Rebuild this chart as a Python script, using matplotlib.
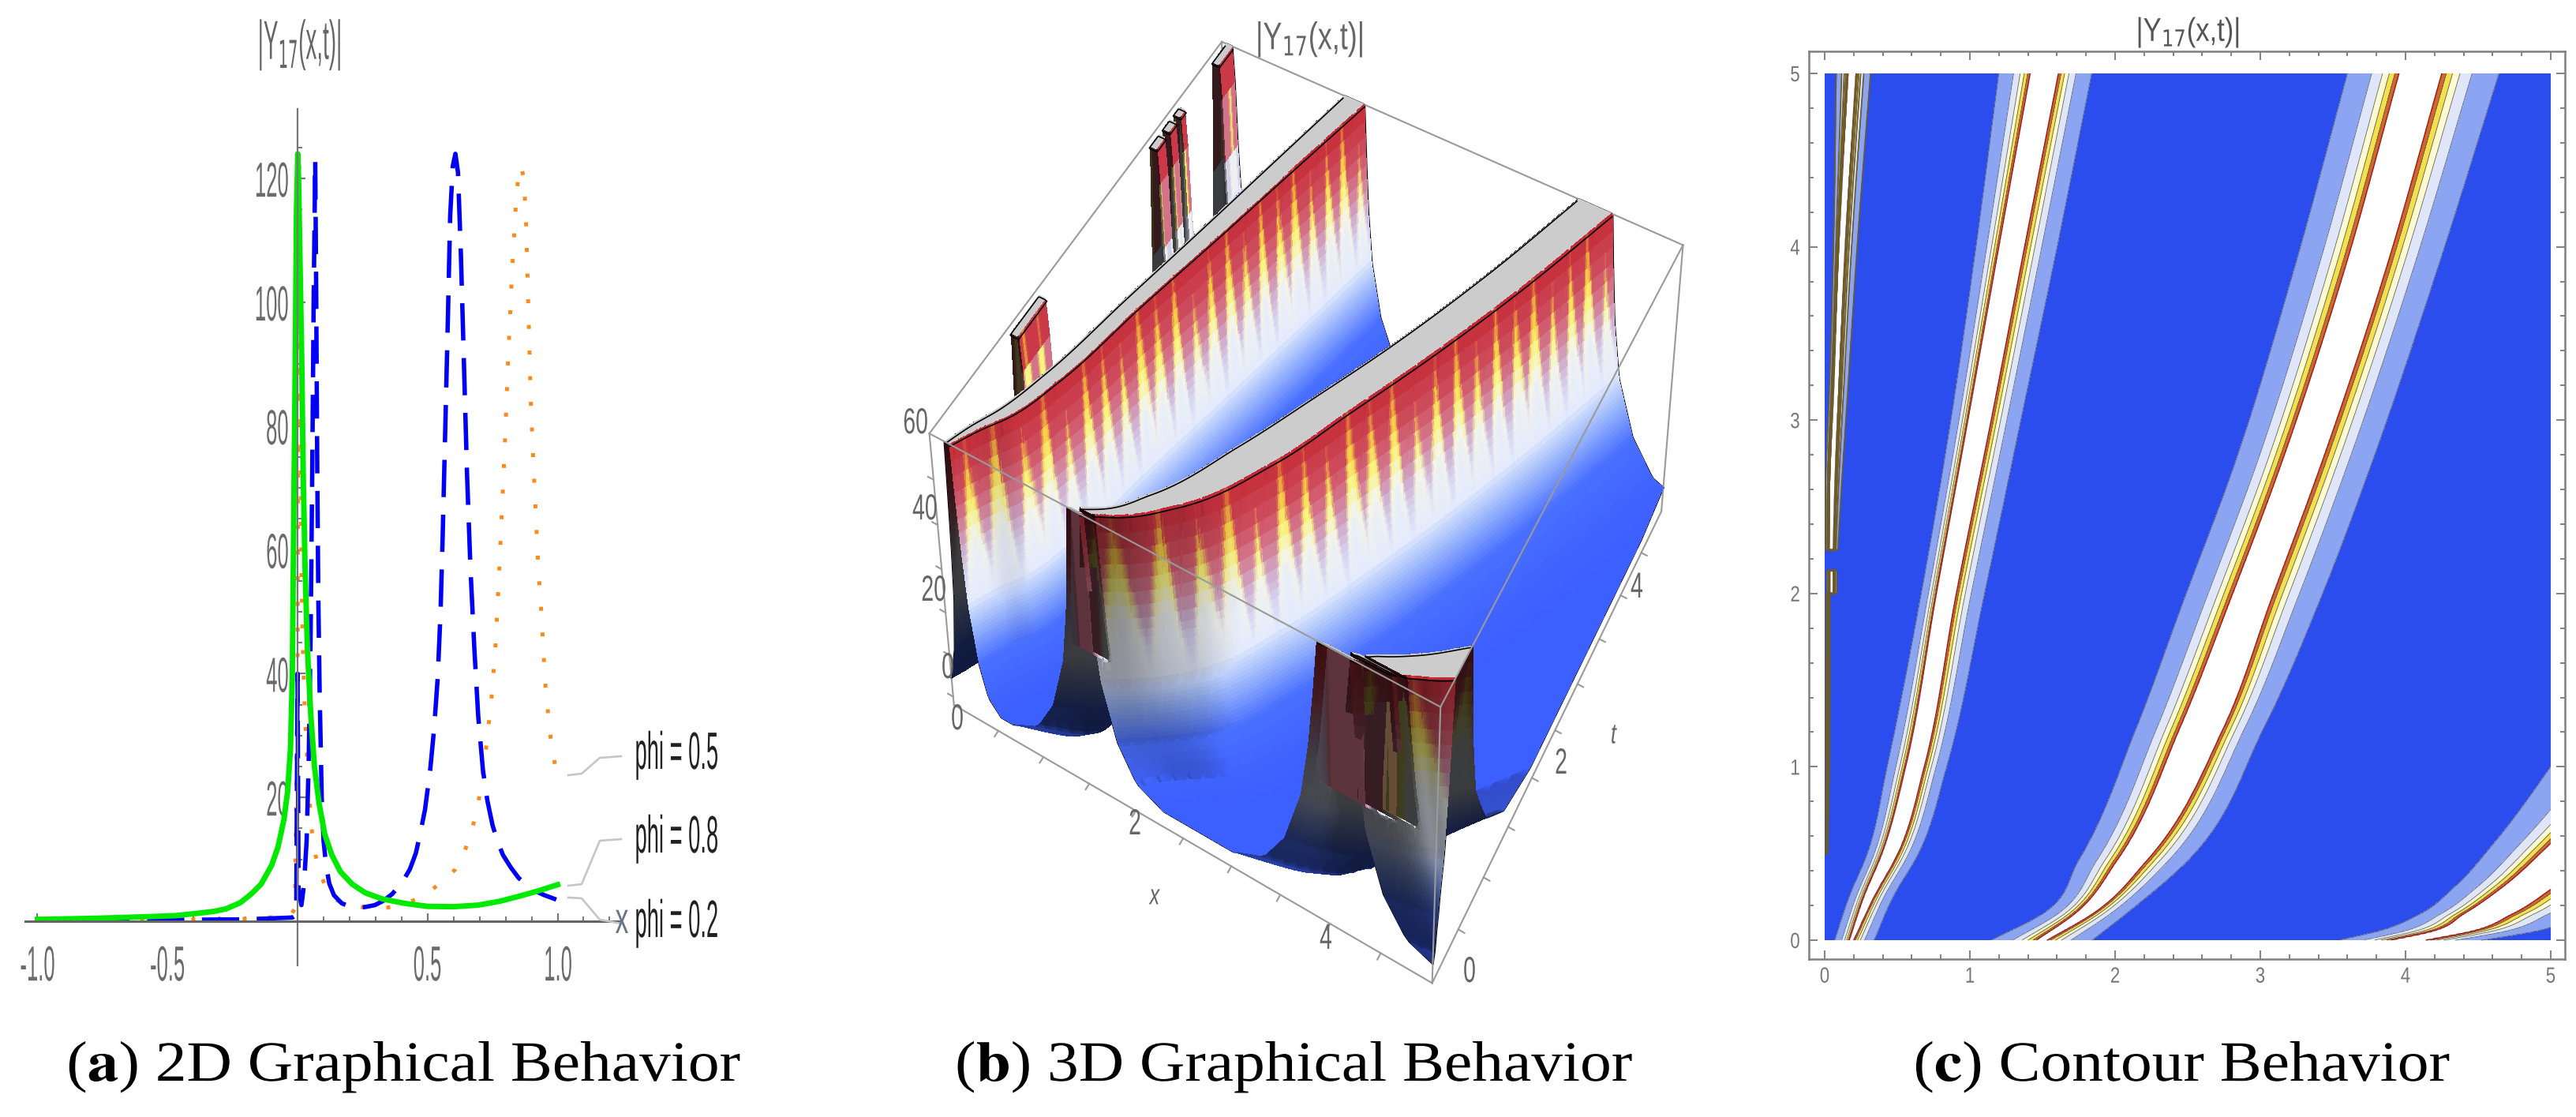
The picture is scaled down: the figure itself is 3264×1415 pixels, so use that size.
"""Three-panel |Y17(x,t)| figure: 2D curves, 3D surface, contour map."""
import matplotlib

matplotlib.use("Agg")
import matplotlib.pyplot as plt  # noqa: E402
import numpy as np  # noqa: E402
from matplotlib.colors import LinearSegmentedColormap  # noqa: E402
from matplotlib.lines import Line2D  # noqa: E402
from matplotlib.patheffects import AbstractPathEffect  # noqa: E402
from matplotlib.ticker import FixedLocator, NullFormatter  # noqa: E402
from matplotlib.transforms import Affine2D  # noqa: E402

W, H = 3264, 1415
SANS = "Liberation Sans"
SERIF = "Liberation Serif"

# --- panel (a): curves
BLUE_X = [-1.0, -0.6, -0.2, -0.02, -0.005, 0.0, 0.004, 0.015, 0.025, 0.035, 0.043, 0.05, 0.056, 0.062, 0.068,
          0.072, 0.076, 0.08, 0.085, 0.093, 0.1, 0.11, 0.122, 0.14, 0.17, 0.2, 0.229, 0.26, 0.297, 0.33, 0.364,
          0.4, 0.432, 0.455, 0.471, 0.49, 0.51, 0.525, 0.539, 0.55, 0.558, 0.568, 0.578, 0.587, 0.597, 0.607,
          0.617, 0.628, 0.64, 0.652, 0.665, 0.68, 0.695, 0.713, 0.73, 0.75, 0.77, 0.79, 0.82, 0.85, 0.88,
          0.907, 0.95, 0.995]
BLUE_Y = [0.2, 0.2, 0.3, 0.6, 1.0, 40.0, 5.0, 2.6, 6.0, 13.0, 26.0, 45.0, 70.0, 100.0, 123.0,
          100.0, 72.0, 52.0, 37.0, 20.0, 13.0, 9.0, 6.1, 4.2, 2.9, 2.4, 2.2, 2.3, 2.6, 3.3, 4.4,
          6.1, 8.4, 11.0, 14.0, 18.0, 24.4, 31.0, 39.3, 50.0, 62.0, 79.4, 97.0, 114.0, 122.0, 124.0,
          121.0, 108.0, 90.0, 72.0, 57.0, 44.0, 33.0, 24.4, 19.5, 15.5, 12.8, 10.7, 8.7, 7.0, 5.9,
          5.0, 4.2, 3.5]
ORANGE_X = [-1.0, -0.6, -0.2, -0.03, -0.01, 0.0, 0.003, 0.006, 0.009, 0.012, 0.015, 0.02, 0.027, 0.035, 0.045,
            0.054, 0.07, 0.093, 0.11, 0.132, 0.17, 0.21, 0.26, 0.306, 0.345, 0.384, 0.42, 0.461, 0.495, 0.529,
            0.57, 0.607, 0.64, 0.665, 0.685, 0.703, 0.72, 0.733, 0.748, 0.762, 0.776, 0.79, 0.8, 0.81, 0.825,
            0.84, 0.85, 0.86, 0.87, 0.878, 0.887, 0.897, 0.907, 0.917, 0.926, 0.936, 0.945, 0.955, 0.965,
            0.975, 0.985, 0.994]
ORANGE_Y = [0.2, 0.2, 0.4, 0.8, 2.0, 40.0, 90.0, 122.0, 100.0, 72.0, 57.0, 45.0, 35.0, 28.0, 20.0,
            15.0, 10.5, 7.2, 5.3, 3.8, 3.0, 2.6, 2.2, 2.0, 2.2, 2.6, 3.0, 3.6, 4.4, 5.5,
            6.8, 8.4, 11.0, 14.0, 17.0, 21.0, 26.0, 31.0, 37.0, 45.0, 57.0, 70.0, 80.0, 91.0, 105.0,
            116.0, 121.0, 122.0, 120.0, 114.0, 100.0, 84.0, 74.0, 65.0, 57.0, 51.0, 44.0, 37.0, 33.0,
            29.0, 26.5, 24.4]
GREEN_X = [-1.0, -0.8, -0.6, -0.47, -0.38, -0.32, -0.275, -0.22, -0.178, -0.14, -0.1, -0.075, -0.052, -0.038,
           -0.027, -0.02, -0.014, -0.009, -0.004, 0.001, 0.004, 0.009, 0.016, 0.022, 0.029, 0.038, 0.05, 0.065,
           0.083, 0.105, 0.132, 0.165, 0.21, 0.26, 0.326, 0.41, 0.5, 0.6, 0.694, 0.775, 0.849, 0.925, 1.0]
GREEN_Y = [0.3, 0.45, 0.7, 0.9, 1.3, 1.6, 2.0, 3.0, 4.4, 6.0, 9.0, 12.0, 16.5, 21.0,
           28.0, 40.0, 68.0, 90.0, 115.0, 124.0, 120.0, 108.0, 91.0, 72.0, 57.0, 44.0, 34.0, 25.0,
           19.0, 14.0, 10.7, 8.0, 6.0, 4.6, 3.6, 2.9, 2.4, 2.35, 2.6, 3.2, 4.0, 4.9, 5.9]
A_XTICKS = [-1.0, -0.5, 0.5, 1.0]
A_XLABELS = ["-1.0", "-0.5", "0.5", "1.0"]
A_YTICKS = [20, 40, 60, 80, 100, 120]
PHI_LABELS = ["phi = 0.5", "phi = 0.8", "phi = 0.2"]

# --- panels (b), (c): level crossings of each ridge
BAND_0_T = [2.25, 2.62, 3.2, 4.02, 5.0]
BAND_0_L = [0.007, 0.007, 0.034, 0.062, 0.08]
BAND_0_WL = [0.03, 0.034, 0.062, 0.098, 0.161]
BAND_0_WR = [0.06, 0.071, 0.098, 0.143, 0.216]
BAND_0_R = [0.09, 0.116, 0.161, 0.225, 0.315]
BLIP_T = [2.0, 2.13]
BLIP_L = [0.015, 0.015]
BLIP_WL = [0.035, 0.035]
BLIP_WR = [0.06, 0.06]
BLIP_R = [0.085, 0.085]
SLIVER_T = [0.5, 1.0, 2.0]
SLIVER_L = [0.008, 0.008, 0.01]
SLIVER_WL = [0.014, 0.014, 0.016]
SLIVER_WR = [0.018, 0.02, 0.022]
SLIVER_R = [0.02, 0.032, 0.036]
BAND_A_T = [0.0, 0.25, 0.5, 1.0, 2.0, 3.0, 4.0, 5.0]
BAND_A_L = [0.07, 0.17, 0.295, 0.431, 0.666, 0.87, 1.043, 1.2]
BAND_A_WL = [0.17, 0.27, 0.395, 0.558, 0.77, 0.987, 1.2, 1.416]
BAND_A_WR = [0.2, 0.34, 0.504, 0.685, 0.906, 1.146, 1.376, 1.609]
BAND_A_R = [0.34, 0.47, 0.645, 0.839, 1.1, 1.35, 1.6, 1.838]
BAND_B_T = [0.0, 0.15, 0.46, 1.219, 1.977, 2.737, 3.875, 5.0]
BAND_B_L = [1.15, 1.5, 1.75, 2.145, 2.481, 2.82, 3.235, 3.601]
BAND_B_WL = [1.46, 1.72, 2.014, 2.444, 2.8, 3.14, 3.583, 3.956]
BAND_B_WR = [1.53, 1.84, 2.218, 2.743, 3.08, 3.415, 3.866, 4.249]
BAND_B_R = [1.84, 2.07, 2.5, 3.02, 3.417, 3.76, 4.22, 4.643]
BAND_C_T = [0.0, 0.05, 0.15, 0.3, 0.55, 1.0, 1.5, 5.0]
BAND_C_L = [3.55, 3.81, 4.1, 4.33, 4.6, 5.0, 5.4, 8.0]
BAND_C_WL = [3.9, 4.18, 4.4, 4.66, 4.99, 5.5, 5.9, 8.4]
BAND_C_WR = [4.14, 4.445, 4.73, 5.01, 5.4, 5.9, 6.4, 8.8]
BAND_C_R = [4.52, 4.88, 5.2, 5.5, 5.8, 6.3, 6.8, 9.3]
# cross-section of a ridge: offset from the outer crossing (0) to the flat top (1) -> height
PROFILE_D = [-1.5, -0.6, 0.0, 0.47, 0.68, 0.81, 0.92, 1.0, 1.02]
PROFILE_Z = [1.5, 4.0, 10.0, 20.0, 30.0, 40.0, 50.0, 60.0, 70.0]
LEVELS = [0, 10, 20, 30, 40, 50, 60]
LEVEL_COLORS = ["#2b4dee", "#8ba5f3", "#dfe6fa", "#fdfbcf", "#f4e04a", "#cf6a28"]
# the clipped tops of the 3D panel are wider than the white bands of the contour panel
WALL_GAIN = 1.22
# isolated pieces behind the first 3D ridge
PEAK_START = [1.18, 3.55, 3.78, 3.98, 4.72]
PEAK_END = [1.64, 3.72, 3.92, 4.1, 5.0]
# undersampled gaps that split the ridges right at the front of the 3D panel
GAP_START = [0.02, 0.07]
GAP_END = [0.05, 0.085]
GAP_FROM_X = [1.0, 3.0]
# height -> colour on the 3D surface, on the yellow tongues and between them
HEIGHT_NODES = [0, 12, 20, 26, 32, 38, 44, 50, 56, 60]
YELLOW_COLORS = ["#3a5cff", "#4a70ff", "#9db8fb", "#e4ebfd", "#f5f5e8", "#f9f37e", "#f5c742", "#e07a38", "#cf3a3a", "#c42a36"]
PINK_COLORS = ["#3a5cff", "#4a70ff", "#9db8fb", "#e0e8fd", "#d6d4f0", "#d0aacb", "#d47a90", "#cf5060", "#c93a48", "#c42a36"]
TONGUES = [0.1, 0.9, 0.2, 1.0, 0.0, 0.8, 0.3, 1.0, 0.1, 0.7, 0.0, 1.0, 0.2, 0.9, 0.1, 0.8, 0.0, 1.0, 0.3, 0.9,
           0.1, 1.0, 0.0, 0.7, 0.2, 0.9, 0.0, 1.0, 0.2, 0.8, 0.1, 1.0, 0.0, 0.9, 0.3, 1.0, 0.1, 0.8, 0.0, 0.9,
           0.2, 1.0, 0.1, 0.7, 0.0]


class Squeeze(AbstractPathEffect):
    """Scale glyphs horizontally; the source picture had been stretched."""

    def __init__(self, sx, anchor=0.5):
        self.sx, self.anchor = sx, anchor

    def draw_path(self, renderer, gc, tpath, affine, rgbFace=None):
        if len(tpath.vertices) == 0:
            return
        box = tpath.get_extents()
        x0 = box.x0 + self.anchor * box.width
        scaled = Affine2D().translate(-x0, 0).scale(self.sx, 1).translate(x0, 0) + affine
        renderer.draw_path(gc, tpath, scaled, rgbFace)


def axes_px(fig, left, top, right, bottom, **kw):
    return fig.add_axes([left / W, 1 - bottom / H, (right - left) / W, (bottom - top) / H], **kw)


def px_text(fig, x, y, s, size, sx=1.0, anchor=0.5, color="#666666", family=SANS, **kw):
    ha = {0: "left", 0.5: "center", 1: "right"}[anchor]
    return fig.text(x / W, 1 - y / H, s, fontsize=size, color=color, family=family, ha=ha, va="center",
                    path_effects=[Squeeze(sx, anchor)], **kw)


def curve(T, knots, vals):
    """Smooth curve through the read crossings; NaN outside the knots."""
    k = np.asarray(knots, dtype=float)
    v = np.asarray(vals, dtype=float)
    h = np.diff(k)
    s = np.diff(v) / h
    m = np.empty_like(v)
    m[0], m[-1] = s[0], s[-1]
    m[1:-1] = (s[:-1] * h[1:] + s[1:] * h[:-1]) / (h[:-1] + h[1:])
    i = np.clip(np.searchsorted(k, T) - 1, 0, len(h) - 1)
    u = (T - k[i]) / h[i]
    out = ((2 * u ** 3 - 3 * u ** 2 + 1) * v[i] + (u ** 3 - 2 * u ** 2 + u) * h[i] * m[i]
           + (-2 * u ** 3 + 3 * u ** 2) * v[i + 1] + (u ** 3 - u ** 2) * h[i] * m[i + 1])
    out[(T < k[0]) | (T > k[-1])] = np.nan
    return out


def band_height(X, T, knots, left, in_left, in_right, right):
    L, WL = curve(T, knots, left), curve(T, knots, in_left)
    WR, R = curve(T, knots, in_right), curve(T, knots, right)
    d = np.minimum((X - L) / (WL - L), (R - X) / (R - WR))
    return np.where(np.isnan(d), PROFILE_Z[0], np.interp(np.nan_to_num(d, nan=-9.0), PROFILE_D, PROFILE_Z))


def common_bands(X, T):
    z = band_height(X, T, BAND_A_T, BAND_A_L, BAND_A_WL, BAND_A_WR, BAND_A_R)
    z = np.maximum(z, band_height(X, T, BAND_B_T, BAND_B_L, BAND_B_WL, BAND_B_WR, BAND_B_R))
    return np.maximum(z, band_height(X, T, BAND_C_T, BAND_C_L, BAND_C_WL, BAND_C_WR, BAND_C_R))


def ridge_mesh():
    """Mesh whose columns follow the ridges, so steep walls do not staircase."""
    t = np.concatenate([np.linspace(0, 0.3, 40, endpoint=False), np.linspace(0.3, 5, 300)])
    side = np.concatenate([np.linspace(-1.5, -0.05, 10), np.linspace(0, 1, 34)])
    cols = [np.full_like(t, v) for v in np.linspace(0, 5, 45)]
    cols += [np.full_like(t, v) for v in np.linspace(0.01, 0.3, 14)]
    for knots, left, in_left, in_right, right in [
        (BAND_A_T, BAND_A_L, BAND_A_WL, BAND_A_WR, BAND_A_R),
        (BAND_B_T, BAND_B_L, BAND_B_WL, BAND_B_WR, BAND_B_R),
        (BAND_C_T, BAND_C_L, BAND_C_WL, BAND_C_WR, BAND_C_R),
    ]:
        L, WL = curve(t, knots, left), curve(t, knots, in_left)
        WR, R = curve(t, knots, in_right), curve(t, knots, right)
        cols += [L + d * (WL - L) for d in side]
        cols += [WL + f * (WR - WL) for f in np.linspace(0.1, 0.9, 5)]
        cols += [R - d * (R - WR) for d in side]
    X = np.sort(np.clip(np.column_stack(cols), 0, 5), axis=1)
    T = np.repeat(t[:, None], X.shape[1], axis=1)
    return t, X, T


def draw_curves(fig):
    ax = axes_px(fig, 32, 138, 785, 1223)
    ax.patch.set_alpha(0)
    ax.set_xlim((32 - 377) / 329.5, (785 - 377) / 329.5)
    ax.set_ylim((1167 - 1223) / 7.84, (1167 - 138) / 7.84)
    ax.plot(ORANGE_X, ORANGE_Y, color="#ff8a1c", lw=3.6, dashes=(1.0, 5.5))
    ax.plot(BLUE_X, BLUE_Y, color="#0000f5", lw=4.0, dashes=(8.5, 4))
    ax.plot(GREEN_X, GREEN_Y, color="#00ea00", lw=5.0, solid_joinstyle="round")
    for side in ("top", "right"):
        ax.spines[side].set_visible(False)
    ax.spines["left"].set_position(("data", 0))
    ax.spines["bottom"].set_position(("data", 0))
    ax.spines["left"].set(color="#777777", lw=1.6)
    ax.spines["bottom"].set(color="#666666", lw=2.2)
    ax.set_xticks(A_XTICKS, A_XLABELS)
    ax.set_yticks(A_YTICKS, [str(v) for v in A_YTICKS])
    ax.xaxis.set_minor_locator(FixedLocator(np.arange(-10, 13) / 10))
    ax.yaxis.set_minor_locator(FixedLocator(np.arange(5, 130, 5)))
    ax.xaxis.set_minor_formatter(NullFormatter())
    ax.yaxis.set_minor_formatter(NullFormatter())
    ax.tick_params(axis="both", which="major", direction="in", length=7, width=1.6, color="#777777")
    ax.tick_params(axis="both", which="minor", direction="in", length=4, width=1.4, color="#777777")
    ax.tick_params(axis="x", labelsize=45, labelcolor="#6b6b6b", pad=21)
    ax.tick_params(axis="y", labelsize=45, labelcolor="#6b6b6b", pad=7)
    for tick in ax.get_xticklabels():
        tick.set(family=SANS, path_effects=[Squeeze(0.41, 0.5)])
    for tick in ax.get_yticklabels():
        tick.set(family=SANS, path_effects=[Squeeze(0.41, 1)])
    px_text(fig, 378, 57, "|Y$_{17}$(x,t)|", 50, sx=0.40, math_fontfamily="dejavusans")
    px_text(fig, 788, 1168, "x", 40, sx=0.6, color="#667788")
    # callouts to the three curve labels
    lead_x = [720, 737, 760, 787]
    lead_y = [[982, 980, 960, 958], [1122, 1120, 1065, 1063], [1137, 1138, 1165, 1170]]
    label_y = [957, 1063, 1170]
    for ys, ly, text in zip(lead_y, label_y, PHI_LABELS):
        fig.add_artist(Line2D(np.array(lead_x) / W, 1 - np.array(ys) / H, color="#c6c6c6", lw=1.9))
        px_text(fig, 802, ly, text, 48, sx=0.41, anchor=0, color="#222222")


def draw_surface(fig):
    t, X, T = ridge_mesh()
    raw = common_bands(X, T)
    for start, end, from_x in zip(GAP_START, GAP_END, GAP_FROM_X):
        raw = np.where((T > start) & (T < end) & (X > from_x), np.minimum(raw, 24.0), raw)
    for start, end in zip(PEAK_START, PEAK_END):
        raw = np.maximum(raw, band_height(X, T, [start, end], [0.0, 0.0], [0.05, 0.05], [0.12, 0.12], [0.27, 0.27]))
    raw = raw * WALL_GAIN
    z = np.minimum(raw, 60.0)

    # each quad takes the colour of its centre
    centre = (z[:-1, :-1] + z[1:, :-1] + z[:-1, 1:] + z[1:, 1:]) / 4
    lowest = np.minimum(np.minimum(z[:-1, :-1], z[1:, :-1]), np.minimum(z[:-1, 1:], z[1:, 1:]))
    centre = np.pad(centre, ((0, 1), (0, 1)), mode="edge")
    lowest = np.pad(lowest, ((0, 1), (0, 1)), mode="edge")
    # tongues narrow to a point going up the wall, and run yellow well above the white zone
    tooth = np.interp(T, np.linspace(0, 5, len(TONGUES)), TONGUES)
    threshold = np.clip((centre - 24) / 36, 0, 1) * 0.82
    blend = np.clip((tooth - threshold) / 0.22, 0, 1)[..., None]
    yellow = LinearSegmentedColormap.from_list("y", [(h / 60, c) for h, c in zip(HEIGHT_NODES, YELLOW_COLORS)])
    pink = LinearSegmentedColormap.from_list("p", [(h / 60, c) for h, c in zip(HEIGHT_NODES, PINK_COLORS)])
    shifted = centre - 9 * tooth * np.clip((centre - 26) / 10, 0, 1)
    rgba = yellow(np.clip(shifted, 0, 60) / 60) * blend + pink(centre / 60) * (1 - blend)

    # light from the +x side: walls turned towards t = 0 stay dark
    dt = np.gradient(t)[:, None]
    dz_dx = np.gradient(z, axis=1) / np.maximum(np.gradient(X, axis=1), 1e-4)
    dz_dt = np.gradient(z, axis=0) / dt - dz_dx * np.gradient(X, axis=0) / dt
    gx, gt = dz_dx * 5 * 0.46 / 62, dz_dt * 5 * 0.46 / 62
    norm = np.sqrt(gx ** 2 + gt ** 2 + 1)
    dot = (0.75 * -gx + 0.12 * -gt + 0.65) / norm
    shade = np.clip(0.3 + 1.1 * dot, 0.25, 1)
    rgba[..., :3] *= shade[..., None]
    rgba[lowest >= 59.9] = (0.80, 0.80, 0.80, 1)

    ax = axes_px(fig, 1167, -77, 2148, 1318, projection="3d", computed_zorder=False)
    ax.apply_aspect = lambda position=None: ax._set_position(ax.get_position(original=True), "active")
    ax.patch.set_alpha(0)
    ax.set_proj_type("persp", focal_length=0.6)
    ax.view_init(elev=40, azim=-61)
    ax.set_box_aspect((1, 1, 0.46))
    ax.set_xlim(0, 5, view_margin=0)
    ax.set_ylim(0, 5, view_margin=0)
    ax.set_zlim(-2, 60, view_margin=0)
    ax.set_axis_off()
    ax.plot_surface(X, T, z, facecolors=rgba, rstride=1, cstride=1, linewidth=0, antialiased=False,
                    shade=False, zorder=2)
    ax.contour(X, T, raw, levels=[59.5], colors="black", linewidths=1.2, zorder=3)
    # outline of the mesh, half hidden by the surface itself
    ax.plot(X[0], T[0], z[0], color="black", lw=1.8, zorder=1)
    ax.plot(X[-1], T[-1], z[-1], color="black", lw=1.8, zorder=1)
    ax.plot(X[:, -1], T[:, -1], z[:, -1], color="black", lw=1.8, zorder=1)
    edge = dict(color="#9a9a9a", lw=1.5)
    for xs, ts, zs, order in [
        ([0, 5], [0, 0], [-2, -2], 1), ([5, 5], [0, 5], [-2, -2], 1), ([0, 0], [0, 0], [-2, 60], 1),
        ([5, 5], [5, 5], [-2, 60], 1), ([0, 0], [5, 5], [30, 60], 1), ([0, 5], [5, 5], [60, 60], 1),
        ([0, 0], [0, 5], [60, 60], 1), ([0, 5], [0, 0], [60, 60], 5), ([5, 5], [0, 5], [60, 60], 5),
        ([5, 5], [0, 0], [-2, 60], 5),
    ]:
        ax.plot(xs, ts, zs, zorder=order, **edge)
    for v in np.arange(0.5, 5, 0.5):
        ax.plot([v, v], [0, -0.06], [-2, -2], zorder=1, **edge)
        ax.plot([5, 5.06], [v, v], [-2, -2], zorder=1, **edge)
    for v in np.arange(0, 60, 10):
        ax.plot([0, -0.06], [0, 0], [v, v], zorder=1, **edge)

    for px, py, s in [(1160, 537, "60"), (1172, 646, "40"), (1183, 749, "20"), (1201, 847, "0"),
                      (1213, 912, "0"), (1438, 1045, "2"), (1680, 1190, "4"), (1862, 1232, "0"),
                      (1978, 968, "2"), (2074, 745, "4")]:
        px_text(fig, px, py, s, 33, sx=0.62)
    px_text(fig, 1463, 1136, "x", 26, sx=0.7, style="italic")
    px_text(fig, 2044, 932, "t", 26, sx=0.7, style="italic")
    px_text(fig, 1659, 50, "|Y$_{17}$(x,t)|", 35, sx=0.74, math_fontfamily="dejavusans")


def draw_contour(fig):
    x = np.linspace(0.005, 5, 1000)
    t = np.linspace(0, 5, 600)
    X, T = np.meshgrid(x, t)
    z0 = band_height(X, T, BAND_0_T, BAND_0_L, BAND_0_WL, BAND_0_WR, BAND_0_R)
    z0 = np.maximum(z0, band_height(X, T, BLIP_T, BLIP_L, BLIP_WL, BLIP_WR, BLIP_R))
    z0 = np.maximum(z0, band_height(X, T, SLIVER_T, SLIVER_L, SLIVER_WL, SLIVER_WR, SLIVER_R))
    z = np.maximum(common_bands(X, T), z0)

    ax = axes_px(fig, 2292, 65, 3250, 1215)
    ax.set_xlim((2292 - 2312) / 184, (3250 - 2312) / 184)
    ax.set_ylim((1191 - 1215) / 219.6, (1191 - 65) / 219.6)
    filled = ax.contourf(X, T, z, levels=LEVELS, colors=LEVEL_COLORS, extend="max")
    filled.cmap.set_over("white")
    filled.changed()
    ax.contour(X, T, z, levels=LEVELS[1:-1], colors="#5c6070", linewidths=0.6)
    ax.contour(X, T, z, levels=LEVELS[-1:], colors="#a01818", linewidths=1.1)
    # the narrow ridge at the left edge is almost all contour lines
    ax.contour(X, T, z0, levels=LEVELS[1:], colors="#6b5a2a", linewidths=1.2)
    for spine in ax.spines.values():
        spine.set(color="#808080", lw=1.8)
    ticks = [0, 1, 2, 3, 4, 5]
    minors = np.arange(0, 26) / 5
    ax.set_xticks(ticks, [str(v) for v in ticks])
    ax.set_yticks(ticks, [str(v) for v in ticks])
    ax.xaxis.set_minor_locator(FixedLocator(minors))
    ax.yaxis.set_minor_locator(FixedLocator(minors))
    ax.tick_params(which="both", direction="in", top=True, right=True, color="#777777", width=1.3)
    ax.tick_params(which="major", length=8, labelsize=20, labelcolor="#777777", pad=7)
    ax.tick_params(which="minor", length=4.5)
    for tick in ax.get_xticklabels() + ax.get_yticklabels():
        tick.set(family=SANS, path_effects=[Squeeze(0.8, 0.5)])
    px_text(fig, 2772, 41, "|Y$_{17}$(x,t)|", 30, sx=0.83, color="#555555", math_fontfamily="dejavusans")


def main():
    fig = plt.figure(figsize=(W / 100, H / 100), dpi=100, facecolor="white")
    draw_surface(fig)
    draw_curves(fig)
    draw_contour(fig)
    for px, part, rest in [(512, "a", "2D Graphical Behavior"), (1640, "b", "3D Graphical Behavior"),
                           (2765, "c", "Contour Behavior")]:
        px_text(fig, px, 1352, f"($\\mathbf{{{part}}}$) {rest}", 52, sx=1.1, color="black", family=SERIF,
                math_fontfamily="stix")
    fig.savefig("out.png", dpi=100)


if __name__ == "__main__":
    main()
